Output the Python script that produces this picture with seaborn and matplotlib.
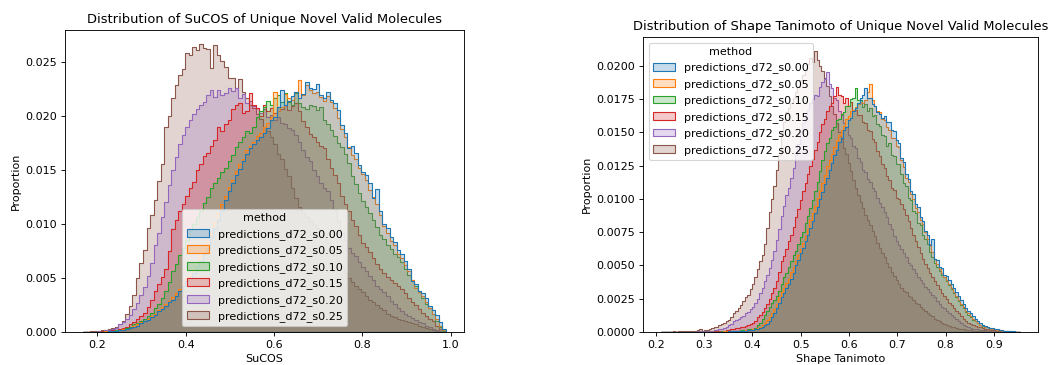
import numpy as np
import pandas as pd
import seaborn as sns
import matplotlib
matplotlib.use("Agg")
import matplotlib.pyplot as plt

methods = [
    "predictions_d72_s0.00",
    "predictions_d72_s0.05",
    "predictions_d72_s0.10",
    "predictions_d72_s0.15",
    "predictions_d72_s0.20",
    "predictions_d72_s0.25",
]

# Shared histogram bins for each metric
sucos_edges = np.linspace(0.168, 0.989, 104)
tanimoto_edges = np.linspace(0.211, 0.954, 151)

# Per-bin proportions, in units of 1e-4, one list per sampling strength
sucos_s000 = [
    0, 0, 0, 0, 0, 0, 0, 1, 1, 1,
    2, 2, 3, 4, 5, 6, 8, 10, 11, 14,
    16, 19, 21, 24, 28, 30, 33, 38, 43, 47,
    50, 55, 61, 66, 72, 78, 88, 96, 104, 113,
    122, 130, 138, 145, 151, 158, 165, 170, 174, 178,
    180, 184, 189, 196, 199, 208, 224, 210, 214, 218,
    222, 216, 220, 231, 226, 225, 229, 219, 216, 222,
    215, 212, 205, 191, 184, 170, 172, 166, 154, 148,
    145, 138, 124, 132, 112, 100, 96, 88, 83, 76,
    72, 66, 58, 47, 44, 38, 36, 31, 24, 20,
    16, 9, 3,
]
sucos_s005 = [
    0, 0, 0, 0, 0, 0, 1, 1, 1, 1,
    2, 3, 3, 4, 6, 7, 9, 10, 12, 15,
    17, 20, 23, 26, 29, 32, 36, 40, 45, 50,
    53, 58, 64, 70, 76, 83, 92, 102, 110, 118,
    126, 134, 141, 149, 155, 160, 168, 172, 176, 181,
    184, 190, 193, 199, 222, 204, 208, 220, 216, 215,
    222, 233, 219, 228, 224, 221, 222, 217, 214, 218,
    213, 207, 198, 188, 180, 171, 164, 160, 152, 146,
    141, 131, 125, 118, 108, 98, 92, 84, 80, 72,
    68, 62, 56, 48, 41, 37, 33, 28, 22, 17,
    12, 6, 2,
]
sucos_s010 = [
    0, 0, 0, 0, 0, 0, 1, 1, 1, 2,
    2, 3, 4, 5, 7, 8, 10, 12, 15, 18,
    22, 26, 31, 38, 46, 56, 63, 71, 78, 85,
    93, 100, 106, 112, 119, 125, 133, 138, 142, 148,
    152, 158, 164, 171, 176, 180, 186, 184, 190, 199,
    204, 208, 214, 210, 216, 219, 213, 221, 213, 210,
    221, 212, 208, 206, 210, 209, 205, 208, 196, 192,
    187, 181, 175, 171, 165, 156, 144, 137, 129, 121,
    116, 110, 104, 97, 90, 86, 80, 77, 72, 69,
    65, 58, 53, 48, 43, 37, 31, 26, 22, 17,
    10, 5, 1,
]
sucos_s015 = [
    0, 0, 0, 0, 0, 1, 1, 1, 2, 2,
    3, 4, 5, 7, 9, 12, 15, 18, 23, 30,
    38, 44, 51, 58, 75, 95, 104, 112, 118, 126,
    133, 139, 150, 155, 163, 166, 172, 178, 190, 186,
    192, 196, 206, 210, 212, 203, 204, 221, 210, 207,
    200, 210, 204, 207, 203, 208, 206, 210, 205, 209,
    212, 204, 195, 190, 183, 180, 176, 172, 170, 160,
    152, 145, 138, 126, 118, 112, 104, 98, 90, 82,
    79, 74, 68, 63, 58, 55, 51, 48, 45, 43,
    40, 36, 31, 28, 25, 21, 18, 15, 12, 10,
    6, 3, 0,
]
sucos_s020 = [
    0, 0, 0, 0, 1, 1, 2, 2, 3, 4,
    7, 9, 12, 16, 21, 27, 34, 42, 52, 64,
    80, 92, 106, 120, 136, 150, 162, 174, 182, 190,
    196, 202, 206, 210, 213, 219, 224, 217, 224, 219,
    221, 226, 223, 226, 216, 220, 212, 214, 209, 207,
    203, 206, 199, 201, 196, 199, 193, 192, 189, 187,
    182, 176, 168, 162, 158, 150, 144, 138, 133, 130,
    122, 114, 103, 92, 85, 78, 73, 70, 65, 60,
    56, 52, 48, 43, 40, 37, 33, 29, 26, 22,
    19, 17, 15, 13, 11, 9, 8, 6, 5, 3,
    2, 1, 0,
]
sucos_s025 = [
    0, 0, 1, 1, 1, 2, 2, 3, 4, 5,
    7, 10, 17, 24, 34, 50, 64, 76, 96, 108,
    122, 140, 155, 190, 200, 216, 228, 238, 243, 258,
    256, 264, 261, 266, 263, 262, 244, 265, 256, 251,
    245, 235, 235, 226, 234, 222, 216, 210, 207, 202,
    197, 190, 186, 180, 174, 165, 160, 151, 144, 133,
    124, 116, 110, 106, 103, 99, 96, 93, 88, 82,
    76, 71, 66, 61, 55, 50, 46, 43, 40, 37,
    33, 30, 28, 25, 22, 20, 17, 15, 14, 12,
    11, 10, 9, 8, 7, 6, 5, 4, 3, 2,
    1, 1, 0,
]

tanimoto_s000 = [
    0, 0, 0, 0, 0, 0, 0, 0, 0, 0,
    0, 0, 0, 0, 0, 0, 0, 0, 0, 0.1,
    0.1, 0.1, 0.1, 0.2, 0.2, 0.2, 0.3, 0.3, 0.4, 0.5,
    0.6, 0.7, 0.8, 0.9, 1, 1.1, 1.3, 1.5, 1.7, 2,
    2, 3, 4, 5, 6, 8, 11, 14, 18, 22,
    26, 29, 33, 36, 40, 44, 50, 54, 59, 63,
    68, 73, 78, 83, 89, 94, 100, 105, 111, 116,
    122, 127, 133, 137, 143, 146, 152, 154, 159, 161,
    166, 168, 172, 176, 178, 183, 176, 176, 171, 170,
    165, 164, 161, 162, 158, 158, 152, 151, 144, 142,
    131, 128, 119, 115, 106, 104, 96, 94, 86, 83,
    76, 73, 65, 70, 55, 54, 49, 48, 43, 42,
    39, 36, 33, 30, 27, 24, 21, 18, 16, 14,
    12, 10, 8, 7, 5.5, 4.5, 3.8, 3.3, 2.8, 2.4,
    2, 1.6, 1.3, 1, 0.8, 0.6, 0.5, 0.4, 0.3, 0.2,
]
tanimoto_s005 = [
    0, 0, 0, 0, 0, 0, 0, 0, 0, 0,
    0, 0, 0, 0, 0, 0, 0, 0, 0.1, 0.1,
    0.1, 0.1, 0.2, 0.2, 0.3, 0.3, 0.4, 0.4, 0.5, 0.6,
    0.7, 0.8, 0.9, 1, 1.1, 1.3, 1.5, 1.8, 2, 2.3,
    3, 4, 5, 7, 9, 11, 14, 17, 21, 26,
    30, 33, 37, 40, 45, 49, 53, 58, 62, 67,
    72, 77, 84, 89, 95, 101, 106, 112, 118, 125,
    129, 134, 139, 144, 148, 152, 155, 160, 162, 166,
    167, 169, 171, 173, 172, 174, 180, 186, 174, 170,
    166, 165, 160, 159, 154, 152, 146, 146, 140, 139,
    129, 124, 116, 113, 104, 100, 93, 90, 84, 81,
    75, 70, 66, 60, 55, 51, 47, 44, 41, 39,
    36, 33, 30, 27, 24, 21, 19, 16, 14, 12,
    10, 8, 7, 5.5, 5, 4, 3.5, 3, 2.3, 2,
    1.7, 1.3, 1, 0.8, 0.6, 0.5, 0.4, 0.3, 0.2, 0.1,
]
tanimoto_s010 = [
    0, 0, 0, 0, 0, 0, 0, 0, 0, 0,
    0, 0, 0, 0, 0, 0, 0, 0.1, 0.1, 0.1,
    0.1, 0.2, 0.2, 0.3, 0.3, 0.4, 0.5, 0.5, 0.6, 0.7,
    0.8, 1, 1.1, 1.3, 1.5, 1.8, 2, 2.3, 2.6, 3,
    5, 7, 10, 13, 16, 19, 22, 24, 27, 31,
    36, 41, 44, 49, 53, 58, 61, 66, 71, 75,
    82, 87, 93, 99, 106, 113, 121, 129, 136, 142,
    146, 152, 154, 159, 160, 164, 165, 170, 170, 175,
    176, 183, 174, 174, 169, 171, 166, 168, 162, 163,
    156, 155, 148, 147, 140, 142, 133, 132, 126, 126,
    119, 112, 110, 101, 99, 91, 89, 82, 80, 73,
    70, 66, 60, 56, 52, 49, 46, 43, 41, 38,
    35, 32, 29, 26, 23, 20, 18, 15, 13, 11,
    9, 8, 6.5, 5.5, 4.5, 4, 3.5, 3, 2.5, 2,
    1.7, 1.3, 1, 0.8, 0.6, 0.5, 0.3, 0.2, 0.1, 0,
]
tanimoto_s015 = [
    0, 0, 0, 0, 0, 0, 0, 0, 0, 0,
    0, 0, 0, 0, 0, 0.1, 0.1, 0.1, 0.2, 0.2,
    0.3, 0.3, 0.4, 0.5, 0.6, 0.8, 1, 1.2, 1.5, 2,
    2.3, 2.8, 3, 3.5, 4, 4.5, 5, 6, 7, 8,
    11, 13, 15, 18, 21, 25, 29, 33, 38, 45,
    53, 57, 62, 68, 73, 79, 86, 92, 99, 106,
    112, 119, 125, 130, 137, 143, 150, 156, 160, 166,
    170, 172, 177, 184, 178, 177, 172, 176, 170, 173,
    167, 167, 163, 163, 158, 157, 152, 151, 145, 143,
    136, 132, 126, 123, 117, 114, 108, 107, 101, 100,
    96, 92, 88, 83, 78, 73, 68, 64, 59, 55,
    51, 48, 44, 41, 38, 35, 32, 29, 27, 25,
    22, 20, 18, 16, 14, 12, 10, 8.5, 7, 6,
    5, 4.5, 4, 3.5, 3, 2.5, 2, 1.8, 1.5, 1.2,
    1, 0.8, 0.6, 0.5, 0.4, 0.3, 0.2, 0.1, 0, 0,
]
tanimoto_s020 = [
    0.1, 0.1, 0.1, 0.1, 0.1, 0.1, 0.1, 0.2, 0.1, 0.2,
    0.2, 0.2, 0.3, 0.3, 0.3, 0.4, 0.4, 0.5, 0.5, 0.6,
    0.8, 1, 1.3, 1.6, 2, 2.5, 3, 4, 5, 6,
    8, 9, 10, 11, 12, 14, 15, 17, 19, 22,
    25, 29, 33, 38, 43, 48, 54, 61, 69, 77,
    87, 95, 103, 108, 116, 123, 133, 141, 150, 157,
    163, 167, 172, 175, 178, 177, 184, 188, 190, 195,
    186, 183, 176, 174, 166, 163, 157, 154, 148, 146,
    140, 138, 131, 128, 122, 120, 115, 113, 108, 106,
    101, 97, 94, 90, 86, 81, 77, 72, 68, 65,
    62, 59, 56, 52, 50, 47, 44, 41, 39, 37,
    34, 32, 30, 28, 26, 23, 21, 19, 18, 16,
    14, 13, 11, 9.5, 8, 6.5, 5, 4.5, 3.5, 3,
    2.5, 2.2, 2, 1.7, 1.4, 1.2, 1, 0.8, 0.7, 0.6,
    0.5, 0.4, 0.3, 0.3, 0.2, 0.2, 0.1, 0.1, 0, 0,
]
tanimoto_s025 = [
    0.2, 0.3, 0.2, 0.3, 0.3, 0.4, 0.3, 0.4, 0.5, 0.4,
    0.5, 0.6, 0.5, 0.7, 0.8, 1.5, 2.2, 1.0, 1.2, 1.5,
    2, 3, 4, 4, 5, 6, 7, 8, 9, 11,
    14, 16, 18, 20, 23, 26, 28, 32, 36, 41,
    47, 53, 58, 66, 78, 90, 100, 110, 122, 133,
    150, 158, 165, 168, 172, 176, 180, 184, 189, 193,
    197, 201, 206, 203, 211, 204, 200, 196, 191, 185,
    177, 170, 164, 157, 150, 145, 138, 134, 127, 121,
    114, 108, 103, 98, 93, 88, 84, 80, 76, 72,
    67, 63, 59, 56, 52, 49, 45, 42, 39, 36,
    33, 31, 30, 27, 26, 24, 22, 21, 19, 17,
    16, 14, 13, 12, 10, 9, 8, 7, 6, 5.5,
    4.5, 4, 3.5, 3, 2.6, 2.3, 2, 1.8, 1.5, 1.3,
    1.1, 1, 0.9, 0.8, 0.7, 0.6, 0.5, 0.5, 0.4, 0.3,
    0.3, 0.2, 0.2, 0.2, 0.1, 0.1, 0.1, 0, 0, 0,
]

sucos_values = [sucos_s000, sucos_s005, sucos_s010, sucos_s015, sucos_s020, sucos_s025]
tanimoto_values = [tanimoto_s000, tanimoto_s005, tanimoto_s010,
                   tanimoto_s015, tanimoto_s020, tanimoto_s025]


def long_table(series, edges, column):
    """One row per bin and method: bin centre plus its proportion as a weight."""
    centers = (edges[:-1] + edges[1:]) / 2
    frames = []
    for name, vals in zip(methods, series):
        vals = np.asarray(vals, dtype=float)
        assert len(vals) == len(centers), (name, len(vals), len(centers))
        frames.append(pd.DataFrame({column: centers,
                                    "weight": vals * 1e-4,
                                    "method": name}))
    return pd.concat(frames, ignore_index=True)


sucos_df = long_table(sucos_values, sucos_edges, "SuCOS")
tanimoto_df = long_table(tanimoto_values, tanimoto_edges, "Shape Tanimoto")

W, H, DPI = 1051, 365, 80
fig = plt.figure(figsize=(W / DPI, H / DPI), dpi=DPI)
ax_left = fig.add_axes([65 / W, 33 / H, 399 / W, 302 / H])
ax_right = fig.add_axes([643 / W, 33 / H, 395 / W, 295 / H])

panels = [
    (ax_left, sucos_df, "SuCOS", sucos_edges,
     "Distribution of SuCOS of Unique Novel Valid Molecules", "lower center"),
    (ax_right, tanimoto_df, "Shape Tanimoto", tanimoto_edges,
     "Distribution of Shape Tanimoto of Unique Novel Valid Molecules", "upper left"),
]

for ax, df, col, edges, title, loc in panels:
    sns.histplot(data=df, x=col, hue="method", hue_order=methods,
                 weights="weight", bins=edges.tolist(), element="step",
                 stat="count", common_norm=False, palette="tab10", ax=ax)
    ax.set_ylabel("Proportion")
    ax.set_xlabel(col)
    ax.set_title(title, fontsize=11.7)
    sns.move_legend(ax, loc, title="method")

fig.savefig("out.png", dpi=DPI)
